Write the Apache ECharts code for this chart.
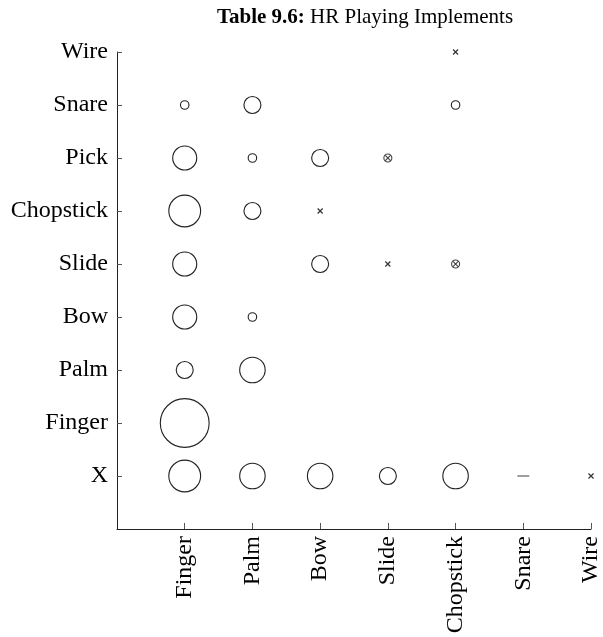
<!DOCTYPE html>
<html>
<head>
<meta charset="utf-8">
<script src="https://cdn.jsdelivr.net/npm/echarts@6/dist/echarts.min.js"></script>
<style>html,body{margin:0;padding:0;background:#fff}#c{width:603px;height:637px}</style>
</head>
<body>
<div id="c"></div>
<script>
const xCats = ['Finger', 'Palm', 'Bow', 'Slide', 'Chopstick', 'Snare', 'Wire'];
const yCats = ['X', 'Finger', 'Palm', 'Bow', 'Slide', 'Chopstick', 'Pick', 'Snare', 'Wire'];
const titleBold = 'Table 9.6:';
const titleText = ' HR Playing Implements';

// [x implement, y implement, count] drawn as circles
const counts = [
  ['Finger', 'X', 14], ['Palm', 'X', 9], ['Bow', 'X', 9], ['Slide', 'X', 4], ['Chopstick', 'X', 9],
  ['Finger', 'Finger', 33],
  ['Finger', 'Palm', 4], ['Palm', 'Palm', 9],
  ['Finger', 'Bow', 8], ['Palm', 'Bow', 1],
  ['Finger', 'Slide', 8], ['Bow', 'Slide', 4],
  ['Finger', 'Chopstick', 14], ['Palm', 'Chopstick', 4],
  ['Finger', 'Pick', 8], ['Palm', 'Pick', 1], ['Bow', 'Pick', 4],
  ['Finger', 'Snare', 1], ['Palm', 'Snare', 4], ['Chopstick', 'Snare', 1]
];
const crossMarks = [['Wire', 'X'], ['Bow', 'Chopstick'], ['Slide', 'Slide'], ['Chopstick', 'Wire']];
const circledCrossMarks = [['Slide', 'Pick'], ['Chopstick', 'Slide']];
const dashMarks = [['Snare', 'X']];

const toPt = r => [xCats.indexOf(r[0]) + 1, yCats.indexOf(r[1]) + 1, r[2]];
const font = "'Liberation Serif', 'DejaVu Serif', serif";
const ink = '#222';

const chart = echarts.init(document.getElementById('c'), null, { renderer: 'canvas' });
chart.setOption({
  animation: false,
  title: {
    text: '{b|' + titleBold + '}{n|' + titleText + '}',
    left: 360, textAlign: 'center', top: 2,
    textStyle: {
      fontWeight: 'normal', fontFamily: font, fontSize: 21,
      rich: {
        b: { fontFamily: font, fontWeight: 'bold', fontSize: 21, color: '#000' },
        n: { fontFamily: font, fontWeight: 'normal', fontSize: 21, color: '#000' }
      }
    }
  },
  grid: { left: 117, right: 10, top: 52, bottom: 108, containLabel: false },
  xAxis: {
    type: 'value', min: 0, max: 7, interval: 1,
    splitLine: { show: false },
    axisLine: { show: true, onZero: false, lineStyle: { color: ink, width: 1 } },
    axisTick: { show: true, inside: true, length: 6, customValues: [1, 2, 3, 4, 5, 6, 7], lineStyle: { color: '#555' } },
    axisLabel: {
      customValues: [1, 2, 3, 4, 5, 6, 7],
      rotate: 90, margin: 7, fontFamily: font, fontSize: 24, color: '#000',
      formatter: v => xCats[v - 1] || ''
    }
  },
  yAxis: {
    type: 'value', min: 0, max: 9, interval: 1,
    splitLine: { show: false },
    axisLine: { show: true, onZero: false, lineStyle: { color: ink, width: 1 } },
    axisTick: { show: true, inside: true, length: 5, customValues: [1, 2, 3, 4, 5, 6, 7, 8, 9], lineStyle: { color: '#555' } },
    axisLabel: {
      customValues: [1, 2, 3, 4, 5, 6, 7, 8, 9],
      margin: 9, fontFamily: font, fontSize: 24, color: '#000',
      formatter: v => yCats[v - 1] || ''
    }
  },
  series: [
    {
      type: 'scatter', data: counts.map(toPt),
      symbol: 'circle',
      symbolSize: d => 8.5 * Math.sqrt(d[2]),
      itemStyle: { color: 'rgba(255,255,255,0)', borderColor: ink, borderWidth: 1.1, opacity: 1 }
    },
    {
      type: 'scatter', data: crossMarks.map(toPt),
      symbol: 'path://M0,0L10,10M10,0L0,10', symbolSize: 5,
      itemStyle: { color: 'none', borderColor: '#000', borderWidth: 1.2 }
    },
    {
      type: 'scatter', data: circledCrossMarks.map(toPt),
      symbol: 'path://M0,5A5,5 0 1,0 10,5A5,5 0 1,0 0,5ZM1.8,1.8L8.2,8.2M8.2,1.8L1.8,8.2', symbolSize: 8,
      itemStyle: { color: 'rgba(255,255,255,0)', borderColor: '#111', borderWidth: 1.1 }
    },
    {
      type: 'scatter', data: dashMarks.map(toPt),
      symbol: 'rect', symbolSize: [12, 1.3],
      itemStyle: { color: '#444' }
    }
  ]
});
</script>
</body>
</html>
